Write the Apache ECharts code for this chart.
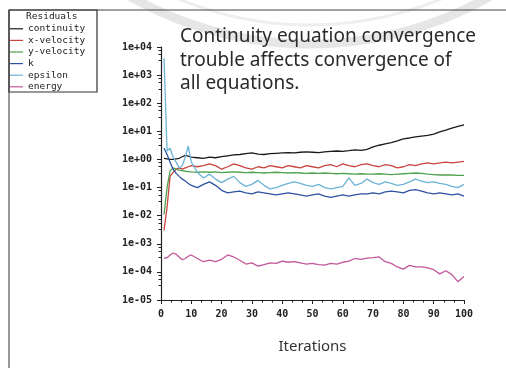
<!DOCTYPE html>
<html>
<head>
<meta charset="utf-8">
<script src="https://cdn.jsdelivr.net/npm/echarts@6/dist/echarts.min.js"></script>
<style>
  html, body { margin: 0; padding: 0; background: #fff; }
  #chart { width: 506px; height: 368px; }
</style>
</head>
<body>
<div id="chart"></div>
<script>
// iterations (every step early on, then every 2)
const iterations = [1, 2, 3, 4, 5, 6, 7, 8, 9, 10,
  12, 14, 16, 18, 20, 22, 24, 26, 28, 30,
  32, 34, 36, 38, 40, 42, 44, 46, 48, 50,
  52, 54, 56, 58, 60, 62, 64, 66, 68, 70,
  72, 74, 76, 78, 80, 82, 84, 86, 88, 90,
  92, 94, 96, 98, 100];

const continuity = [1.1, 1.05, 1.0, 1.0, 1.05, 1.1, 1.25, 1.4, 1.3, 1.2,
  1.15, 1.1, 1.2, 1.15, 1.25, 1.35, 1.45, 1.5, 1.6, 1.7,
  1.55, 1.5, 1.6, 1.65, 1.7, 1.75, 1.7, 1.8, 1.85, 1.8,
  1.75, 1.85, 1.95, 2.0, 1.95, 2.05, 2.2, 2.1, 2.3, 2.8,
  3.2, 3.6, 4.0, 4.6, 5.4, 5.8, 6.4, 6.8, 7.2, 8.0,
  9.5, 11, 13, 15, 17];

const xVelocity = [0.003, 0.02, 0.25, 0.35, 0.45, 0.5, 0.45, 0.5, 0.55, 0.6,
  0.55, 0.6, 0.7, 0.6, 0.45, 0.55, 0.7, 0.6, 0.5, 0.45,
  0.55, 0.5, 0.6, 0.55, 0.5, 0.6, 0.55, 0.5, 0.6, 0.55,
  0.5, 0.6, 0.65, 0.55, 0.7, 0.6, 0.55, 0.65, 0.7, 0.6,
  0.55, 0.65, 0.6, 0.5, 0.55, 0.65, 0.6, 0.7, 0.75, 0.7,
  0.75, 0.8, 0.75, 0.8, 0.85];

const yVelocity = [0.011, 0.1, 0.4, 0.5, 0.45, 0.42, 0.4, 0.38, 0.37, 0.36,
  0.35, 0.36, 0.35, 0.36, 0.34, 0.35, 0.36, 0.35, 0.34, 0.35,
  0.34, 0.33, 0.34, 0.35, 0.34, 0.33, 0.34, 0.33, 0.32, 0.33,
  0.32, 0.33, 0.32, 0.31, 0.32, 0.31, 0.3, 0.31, 0.3, 0.3,
  0.31, 0.3, 0.29, 0.3, 0.31, 0.32, 0.33, 0.32, 0.3, 0.29,
  0.28, 0.28, 0.28, 0.27, 0.27];

const kValues = [2.5, 1.5, 0.8, 0.45, 0.32, 0.25, 0.2, 0.17, 0.14, 0.12,
  0.1, 0.13, 0.16, 0.12, 0.08, 0.065, 0.07, 0.075, 0.065, 0.06,
  0.07, 0.065, 0.06, 0.055, 0.06, 0.065, 0.06, 0.055, 0.05, 0.055,
  0.06, 0.05, 0.045, 0.05, 0.055, 0.05, 0.055, 0.06, 0.06, 0.065,
  0.06, 0.07, 0.075, 0.07, 0.065, 0.08, 0.085, 0.075, 0.065, 0.06,
  0.065, 0.06, 0.055, 0.06, 0.05];

const epsilon = [4000, 2, 2.5, 1.2, 0.8, 0.5, 0.6, 1.2, 3, 0.8,
  0.35, 0.22, 0.3, 0.2, 0.15, 0.2, 0.25, 0.15, 0.11, 0.13,
  0.18, 0.12, 0.09, 0.1, 0.12, 0.14, 0.16, 0.14, 0.12, 0.11,
  0.13, 0.1, 0.09, 0.1, 0.11, 0.22, 0.12, 0.14, 0.2, 0.15,
  0.13, 0.16, 0.14, 0.12, 0.13, 0.16, 0.2, 0.17, 0.15, 0.16,
  0.14, 0.13, 0.11, 0.1, 0.13];

const energy = [3.0e-4, 3.2e-4, 4.0e-4, 4.7e-4, 4.2e-4, 3.4e-4, 2.7e-4, 3.0e-4, 3.6e-4, 4.0e-4,
  3.0e-4, 2.3e-4, 2.6e-4, 2.3e-4, 2.8e-4, 4.0e-4, 3.4e-4, 2.6e-4, 1.9e-4, 2.1e-4,
  1.6e-4, 1.8e-4, 2.1e-4, 2.0e-4, 2.4e-4, 2.2e-4, 2.3e-4, 2.1e-4, 1.9e-4, 2.0e-4,
  1.8e-4, 1.75e-4, 2.0e-4, 1.9e-4, 2.2e-4, 2.4e-4, 3.0e-4, 2.8e-4, 3.1e-4, 3.2e-4,
  3.4e-4, 2.3e-4, 2.0e-4, 1.5e-4, 1.25e-4, 1.7e-4, 1.5e-4, 1.5e-4, 1.4e-4, 1.2e-4,
  0.85e-4, 1.1e-4, 0.8e-4, 0.45e-4, 0.68e-4];

const seriesNames = ['continuity', 'x-velocity', 'y-velocity', 'k', 'epsilon', 'energy'];
const seriesValues = [continuity, xVelocity, yVelocity, kValues, epsilon, energy];
const seriesColors = ['#1a1a1a', '#c8453f', '#4fa24f', '#2f52a3', '#6db3d6', '#c2579a'];

const xTicks = { min: 0, max: 100, step: 10 };
const yTicks = { min: 1e-5, max: 1e4 };

const tickFont = '"DejaVu Sans Mono", monospace';

const chart = echarts.init(document.getElementById('chart'), null, { renderer: 'canvas' });

const option = {
  backgroundColor: '#ffffff',
  animation: false,
  grid: { left: 161, top: 47, width: 303, height: 253 },
  legend: {
    orient: 'vertical',
    left: 10,
    top: 23,
    padding: 0,
    itemGap: 0,
    itemWidth: 13,
    itemHeight: 1.2,
    itemTextGap: 0,
    icon: 'rect',
    selectedMode: false,
    data: seriesNames,
    textStyle: {
      fontFamily: tickFont,
      fontSize: 9.5,
      color: '#222',
      lineHeight: 11.6
    }
  },
  xAxis: {
    type: 'value',
    min: xTicks.min,
    max: xTicks.max,
    interval: xTicks.step,
    name: 'Iterations',
    nameLocation: 'middle',
    nameGap: 39,
    nameTextStyle: { fontFamily: 'Noto Sans', fontSize: 15, color: '#333' },
    axisLine: { lineStyle: { color: '#222', width: 1.2 } },
    axisTick: { length: 4, lineStyle: { color: '#222' } },
    minorTick: { show: true, splitNumber: 3, length: 2.5, lineStyle: { color: '#222' } },
    splitLine: { show: false },
    axisLabel: {
      fontFamily: tickFont,
      fontSize: 10,
      fontWeight: 'bold',
      color: '#222',
      margin: 9
    }
  },
  yAxis: {
    type: 'log',
    logBase: 10,
    min: yTicks.min,
    max: yTicks.max,
    interval: 1,
    splitNumber: 9,
    axisLine: { show: true, lineStyle: { color: '#222', width: 1.2 } },
    axisTick: { show: true, length: 4, lineStyle: { color: '#222' } },
    minorTick: { show: true, splitNumber: 4, length: 2.5, lineStyle: { color: '#222' } },
    splitLine: { show: false },
    axisLabel: {
      fontFamily: tickFont,
      fontSize: 10,
      fontWeight: 'bold',
      color: '#222',
      margin: 9,
      formatter: function (v) {
        const e = Math.round(Math.log10(v));
        return '1e' + (e < 0 ? '-' : '+') + String(Math.abs(e)).padStart(2, '0');
      }
    }
  },
  graphic: [
    // faint watermark arcs behind everything
    {
      type: 'arc', z: -10, silent: true,
      shape: { cx: 310, cy: -320, r: 364, startAngle: 0.95, endAngle: 2.2 },
      style: { stroke: '#e6e6e6', lineWidth: 9, fill: null }
    },
    {
      type: 'arc', z: -10, silent: true,
      shape: { cx: 310, cy: -320, r: 345, startAngle: 1.0, endAngle: 2.15 },
      style: { stroke: '#eeeeee', lineWidth: 3, fill: null }
    },
    // page frame
    { type: 'line', silent: true, shape: { x1: 9, y1: 10, x2: 506, y2: 10 }, style: { stroke: '#444', lineWidth: 1.2 } },
    { type: 'line', silent: true, shape: { x1: 9, y1: 10, x2: 9, y2: 368 }, style: { stroke: '#555', lineWidth: 1.2 } },
    // legend box
    { type: 'rect', silent: true, shape: { x: 9, y: 10, width: 88, height: 82 }, style: { stroke: '#333', lineWidth: 1.2, fill: null } },
    {
      type: 'text', silent: true, left: 26, top: 12,
      style: { text: 'Residuals', font: '9.5px "DejaVu Sans Mono"', fill: '#222' }
    },
    {
      type: 'text', silent: true, left: 180, top: 25,
      style: {
        text: 'Continuity equation convergence\ntrouble affects convergence of\nall equations.',
        font: '19px "Noto Sans"',
        lineHeight: 23.5,
        fill: '#2a2a2a'
      }
    }
  ],
  series: seriesNames.map(function (name, i) {
    return {
      name: name,
      type: 'line',
      symbol: 'none',
      smooth: false,
      data: iterations.map(function (it, j) { return [it, seriesValues[i][j]]; }),
      lineStyle: { color: seriesColors[i], width: 1.3 },
      itemStyle: { color: seriesColors[i] }
    };
  })
};

chart.setOption(option);
</script>
</body>
</html>
